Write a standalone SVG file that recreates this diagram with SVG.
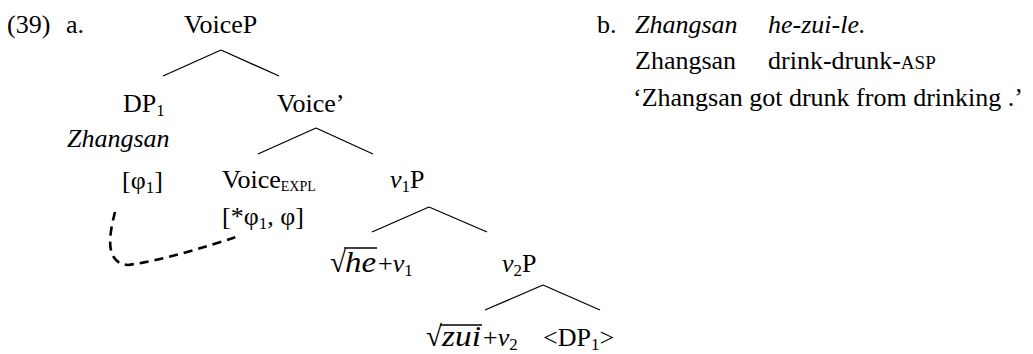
<svg xmlns="http://www.w3.org/2000/svg" width="1033" height="354" viewBox="0 0 1033 354">
<style>
text{font-family:"Liberation Serif","Times New Roman",serif;font-size:26px;fill:#000}
.it{font-style:italic}
.math{font-size:29px}
.sub{font-size:17px}
.sc{font-size:14px}
.asp{font-size:19px}
.edge{stroke:#000;stroke-width:1.3;fill:none}
.dash{stroke:#000;stroke-width:2.6;fill:none;stroke-dasharray:9 6}
.vinc{stroke:#000;stroke-width:1.4}
</style>
<rect width="1033" height="354" fill="#fff"/>
<g id="connectors">
<line class="edge" x1="221" y1="50" x2="163" y2="76"/>
<line class="edge" x1="221" y1="50" x2="279" y2="76"/>
<line class="edge" x1="316" y1="128" x2="258" y2="154"/>
<line class="edge" x1="316" y1="128" x2="373" y2="154"/>
<line class="edge" x1="429" y1="207" x2="372" y2="232"/>
<line class="edge" x1="429" y1="207" x2="487" y2="232"/>
<line class="edge" x1="543" y1="285" x2="485" y2="310"/>
<line class="edge" x1="543" y1="285" x2="600" y2="310"/>
<path class="dash" d="M115,212 C110,232 103,263 128,265 C165,260 205,247 236,237"/>
</g>
<g id="ex-label"><text x="7" y="33">(39)</text><text x="66" y="33">a.</text></g>
<g id="voiceP"><text x="184" y="33">VoiceP</text></g>
<g id="dp1"><text x="123" y="112">DP<tspan class="sub" dy="4">1</tspan></text></g>
<g id="voice-bar"><text x="277" y="112">Voice’</text></g>
<g id="zhangsan-node"><text class="it" x="67" y="147">Zhangsan</text>
<text x="122" y="189">[φ<tspan class="sub" dy="4">1</tspan><tspan dy="-4">]</tspan></text></g>
<g id="voice-expl"><text x="222" y="188">Voice<tspan class="sc" dy="3">EXPL</tspan></text>
<text x="222" y="225">[*φ<tspan class="sub" dy="4">1</tspan><tspan dy="-4">, φ]</tspan></text></g>
<g id="v1P"><text x="390" y="188"><tspan class="it">v</tspan><tspan class="sub" dy="4">1</tspan><tspan dy="-4">P</tspan></text></g>
<g id="he-v1">
<text class="math" x="330" y="272">√</text>
<line class="vinc" x1="344" y1="248" x2="377" y2="248"/>
<text class="it math" x="345" y="272" textLength="31" lengthAdjust="spacingAndGlyphs">he</text>
<text x="378" y="272">+<tspan class="it">v</tspan><tspan class="sub" dy="4">1</tspan></text>
</g>
<g id="v2P"><text x="502" y="272"><tspan class="it">v</tspan><tspan class="sub" dy="4">2</tspan><tspan dy="-4">P</tspan></text></g>
<g id="zui-v2">
<text class="math" x="426" y="346">√</text>
<line class="vinc" x1="440" y1="325" x2="482" y2="325"/>
<text class="it math" x="442" y="346" textLength="39" lengthAdjust="spacingAndGlyphs">zui</text>
<text x="483" y="346">+<tspan class="it">v</tspan><tspan class="sub" dy="4">2</tspan></text>
</g>
<g id="dp1-trace"><text x="543" y="346">&lt;DP<tspan class="sub" dy="4">1</tspan><tspan dy="-4">&gt;</tspan></text></g>
<g id="example-b">
<text x="597" y="33">b.</text>
<text class="it" x="635" y="33">Zhangsan</text>
<text class="it" x="768" y="33">he-zui-le.</text>
<text x="635" y="69">Zhangsan</text>
<text x="768" y="69">drink-drunk-<tspan class="asp">ASP</tspan></text>
<text x="633" y="106">‘Zhangsan got drunk from drinking .’</text>
</g>
</svg>
